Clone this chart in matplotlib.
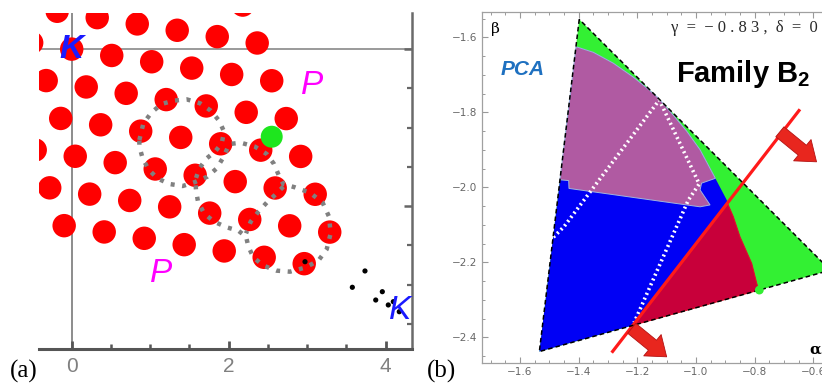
import matplotlib
matplotlib.use('Agg')
import matplotlib.pyplot as plt
from matplotlib.patches import Polygon
from matplotlib.ticker import MultipleLocator

plt.rcParams['mathtext.fontset'] = 'custom'
plt.rcParams['mathtext.bf'] = 'Liberation Sans:bold'
plt.rcParams['mathtext.rm'] = 'Liberation Sans'

# ---------------- panel (a) data ----------------
circ_x = [2.179,
          -0.185, 0.325, 0.835, 1.344, 1.854, 2.363,
          -0.510, 0.000, 0.510, 1.019, 1.529, 2.038, 2.548,
          -0.325, 0.185, 0.694, 1.204, 1.714, 2.223, 2.733,
          -0.140, 0.369, 0.879, 1.389, 1.898, 2.408, 2.917,
          -0.465, 0.045, 0.554, 1.064, 1.573, 2.083, 2.592, 3.102,
          -0.280, 0.229, 0.739, 1.248, 1.758, 2.268, 2.777, 3.287,
          -0.096, 0.414, 0.924, 1.433, 1.943, 2.452, 2.962]
circ_y = [4.561,
          4.482, 4.401, 4.321, 4.240, 4.159, 4.078,
          4.081, 4.000, 3.919, 3.839, 3.758, 3.677, 3.597,
          3.599, 3.518, 3.437, 3.357, 3.276, 3.195, 3.115,
          3.117, 3.036, 2.955, 2.875, 2.794, 2.713, 2.633,
          2.715, 2.635, 2.554, 2.473, 2.393, 2.312, 2.231, 2.151,
          2.233, 2.153, 2.072, 1.991, 1.911, 1.830, 1.749, 1.669,
          1.751, 1.671, 1.590, 1.509, 1.429, 1.348, 1.267]

green_x = [2.548]
green_y = [2.884]

black_x = [2.972, 3.736, 3.575, 3.957, 3.873, 4.033, 4.097, 4.173]
black_y = [1.292, 1.174, 0.966, 0.910, 0.804, 0.741, 0.783, 0.655]

path_x = [0.862, 0.913, 1.019, 1.146, 1.295, 1.465, 1.635, 1.771, 1.877, 1.941,
          1.911, 1.826, 1.720, 1.626, 1.575, 1.584, 1.609, 1.686, 1.813, 1.975,
          2.123, 2.221, 2.251, 2.314, 2.442, 2.611, 2.781, 2.972, 3.142, 3.248,
          3.299, 3.278, 3.197, 3.036, 2.845, 2.696, 2.645, 2.577, 2.484, 2.335,
          2.153, 2.008, 1.932, 1.847, 1.728, 1.571, 1.414, 1.244, 1.091, 0.977,
          0.904, 0.862, 0.862]
path_y = [2.842, 3.055, 3.195, 3.301, 3.343, 3.360, 3.310, 3.216, 3.089, 2.949,
          2.800, 2.694, 2.609, 2.481, 2.333, 2.197, 2.057, 1.908, 1.802, 1.730,
          1.687, 1.611, 1.484, 1.348, 1.242, 1.178, 1.165, 1.216, 1.305, 1.450,
          1.653, 1.866, 2.044, 2.171, 2.239, 2.282, 2.375, 2.537, 2.664, 2.757,
          2.808, 2.791, 2.622, 2.481, 2.375, 2.307, 2.256, 2.282, 2.354, 2.469,
          2.609, 2.757, 2.842]
mid_x = [2.696, 2.590, 2.484, 2.378, 2.280, 2.221]
mid_y = [2.248, 2.142, 2.044, 1.929, 1.802, 1.653]

# ---------------- panel (b) data ----------------
tri_x = [-1.398, -1.534, -0.542]
tri_y = [-1.552, -2.438, -2.221]

arc_x = [-1.409, -1.350, -1.282, -1.214, -1.157, -1.128, -1.077, -1.032, -0.986,
         -0.934, -0.895, -0.893, -0.873, -0.850, -0.810, -0.793, -0.786]
arc_y = [-1.625, -1.640, -1.669, -1.706, -1.742, -1.762, -1.808, -1.850, -1.900,
         -1.976, -2.034, -2.042, -2.078, -2.132, -2.203, -2.256, -2.274]

notch_x = [-0.981, -0.986, -0.952, -0.986, -1.433, -1.434, -1.464]
notch_y = [-1.989, -2.007, -2.047, -2.052, -2.003, -1.982, -1.980]

crimson_start = (-1.2155, -2.368)

white_x = [-1.486, -1.450, -1.125, -0.989, -1.026, -1.211]
white_y = [-2.133, -2.105, -1.767, -1.991, -2.034, -2.361]

redline_x = [-1.2875, -0.6455]
redline_y = [-2.441, -1.792]

arrow_tail = [(-0.714, -1.852), (-1.219, -2.376)]
arrow_tip = [(-0.589, -1.932), (-1.100, -2.452)]

dot_b_x = [-0.784]
dot_b_y = [-2.274]

W, H = 822, 386
fig = plt.figure(figsize=(W / 100, H / 100), dpi=100)

# ================= panel (a) =================
ax1 = fig.add_axes([39 / W, 1 - 349 / H, (411.5 - 39) / W, (349 - 13) / H])
ax1.set_xlim(-0.4166, 4.3287)
ax1.set_ylim(0.18, 4.46)
ax1.axvline(0, color='#8c8c8c', lw=1.4, zorder=1)
ax1.axhline(4.0, color='#9a9a9a', lw=1.4, zorder=1)
ax1.scatter(circ_x, circ_y, s=285, color='#ff0000', edgecolors='none', zorder=2)
ax1.plot(path_x, path_y, color='#808080', lw=3.2, linestyle=(0, (0.9, 1.7)),
         dash_capstyle='butt', zorder=3)
ax1.plot(mid_x, mid_y, color='#808080', lw=3.2, linestyle=(0, (0.9, 1.7)),
         dash_capstyle='butt', zorder=3)
ax1.scatter(green_x, green_y, s=250, color='#1ee61e', edgecolors='none', zorder=4)
ax1.scatter(black_x, black_y, s=14, color='black', edgecolors='none', zorder=5)

kfont = dict(family='Liberation Sans', style='italic', fontsize=24)
ax1.text(0.0, 4.0, 'K', color='#1a1aff', ha='center', va='center', zorder=7,
         fontweight='bold', family='Liberation Sans', style='italic', fontsize=24)
ax1.text(4.18, 0.67, 'K', color='#1a1aff', ha='center', va='center', zorder=7, **kfont)
ax1.text(3.065, 3.54, 'P', color='#ff00ff', ha='center', va='center', zorder=7, **kfont)
ax1.text(1.134, 1.14, 'P', color='#ff00ff', ha='center', va='center', zorder=7, **kfont)

for s in ['left', 'top']:
    ax1.spines[s].set_visible(False)
ax1.spines['bottom'].set_color('#555555')
ax1.spines['bottom'].set_linewidth(2.2)
ax1.spines['right'].set_color('#6a6a6a')
ax1.spines['right'].set_linewidth(1.8)
ax1.set_xticks([0, 2, 4])
ax1.set_xticklabels(['0', '2', '4'], family='Liberation Sans')
ax1.xaxis.set_minor_locator(MultipleLocator(0.5))
ax1.tick_params(axis='x', which='major', direction='in', length=6, width=2,
                color='#555555', labelcolor='#808080', labelsize=15, pad=6)
ax1.tick_params(axis='x', which='minor', direction='in', length=3.5, width=1.8,
                color='#555555')
ax1.yaxis.tick_right()
ax1.set_yticks([2, 4])
ax1.yaxis.set_minor_locator(MultipleLocator(0.5))
ax1.tick_params(axis='y', which='major', direction='in', length=6, width=1.8,
                color='#666666', labelright=False, labelleft=False)
ax1.tick_params(axis='y', which='minor', direction='in', length=3.5, width=1.6,
                color='#666666')

# ================= panel (b) =================
ax2 = fig.add_axes([481.7 / W, 1 - 363 / H, (835 - 481.7) / W, (363 - 12.3) / H])
ax2.set_xlim(-1.7306, -0.526)
ax2.set_ylim(-2.4685, -1.5333)

tri = list(zip(tri_x, tri_y))
arc = list(zip(arc_x, arc_y))
ax2.add_patch(Polygon(tri, closed=True, facecolor='#33f033', edgecolor='none', zorder=1))
blue_poly = [tri[1]] + arc[::-1]
ax2.add_patch(Polygon(blue_poly, closed=True, facecolor='#0000f5', edgecolor='none', zorder=2))
purple_poly = arc[:10] + list(zip(notch_x, notch_y))
ax2.add_patch(Polygon(purple_poly, closed=True, facecolor='#b05aa2', edgecolor='#9fb4e0',
                      lw=0.7, zorder=3))
crimson_poly = [crimson_start] + arc[11:]
ax2.add_patch(Polygon(crimson_poly, closed=True, facecolor='#c8003a', edgecolor='#e0102a',
                      lw=0.8, zorder=3))
ax2.plot(white_x, white_y, color='white', lw=2.6, linestyle=(0, (0.55, 0.9)),
         dash_capstyle='butt', zorder=4)
ax2.plot(redline_x, redline_y, color='#ff1a1a', lw=2.3, zorder=5, solid_capstyle='butt')
ax2.add_patch(Polygon(tri, closed=True, facecolor='none', edgecolor='black', lw=1.1,
                      linestyle=(0, (3, 2)), zorder=6))
for t, h in zip(arrow_tail, arrow_tip):
    ax2.annotate('', xy=h, xytext=t, zorder=7,
                 arrowprops=dict(arrowstyle='simple,head_length=0.6,head_width=0.9,tail_width=0.42',
                                 mutation_scale=22, facecolor='#e8261e', edgecolor='#b31212',
                                 lw=0.6, shrinkA=0, shrinkB=0))
ax2.scatter(dot_b_x, dot_b_y, s=40, color='#33ee33', edgecolors='none', zorder=8)

ax2.text(-1.685, -1.578, 'β', family='DejaVu Serif', fontsize=11, ha='center', va='center')
ax2.text(-0.594, -2.433, 'α', family='DejaVu Serif', fontsize=11, fontweight='bold',
         ha='center', va='center')
ax2.text(-0.584, -1.575, 'γ  =  − 0 . 8 3 ,  δ  =  0', family='Liberation Serif',
         fontsize=12, color='#2a2a2a', ha='right', va='center')
ax2.text(-1.590, -1.685, 'PCA', family='Liberation Sans', fontsize=15, fontweight='bold',
         style='italic', color='#1e70c0', ha='center', va='center')
ax2.text(-1.068, -1.718, r'Family B$_\mathbf{2}$', family='Liberation Sans', fontsize=21,
         fontweight='bold', color='black', ha='left', va='baseline')

for s in ['left', 'top', 'bottom', 'right']:
    ax2.spines[s].set_color('#a0a0a0')
    ax2.spines[s].set_linewidth(0.9)
ax2.set_xticks([-1.6, -1.4, -1.2, -1.0, -0.8, -0.6])
ax2.set_yticks([-2.4, -2.2, -2.0, -1.8, -1.6])
ax2.xaxis.set_minor_locator(MultipleLocator(0.05))
ax2.yaxis.set_minor_locator(MultipleLocator(0.05))
ax2.tick_params(which='major', direction='in', length=4.5, width=0.8, color='#999999',
                labelcolor='#666666', labelsize=7.5, top=True, pad=3)
ax2.tick_params(which='minor', direction='in', length=2.5, width=0.7, color='#999999',
                top=True)

fig.text(24 / W, 1 - 371 / H, '(a)', family='Liberation Serif', fontsize=18,
         ha='center', va='center')
fig.text(441 / W, 1 - 371 / H, '(b)', family='Liberation Serif', fontsize=18,
         ha='center', va='center')

fig.savefig('out.png', dpi=100)
